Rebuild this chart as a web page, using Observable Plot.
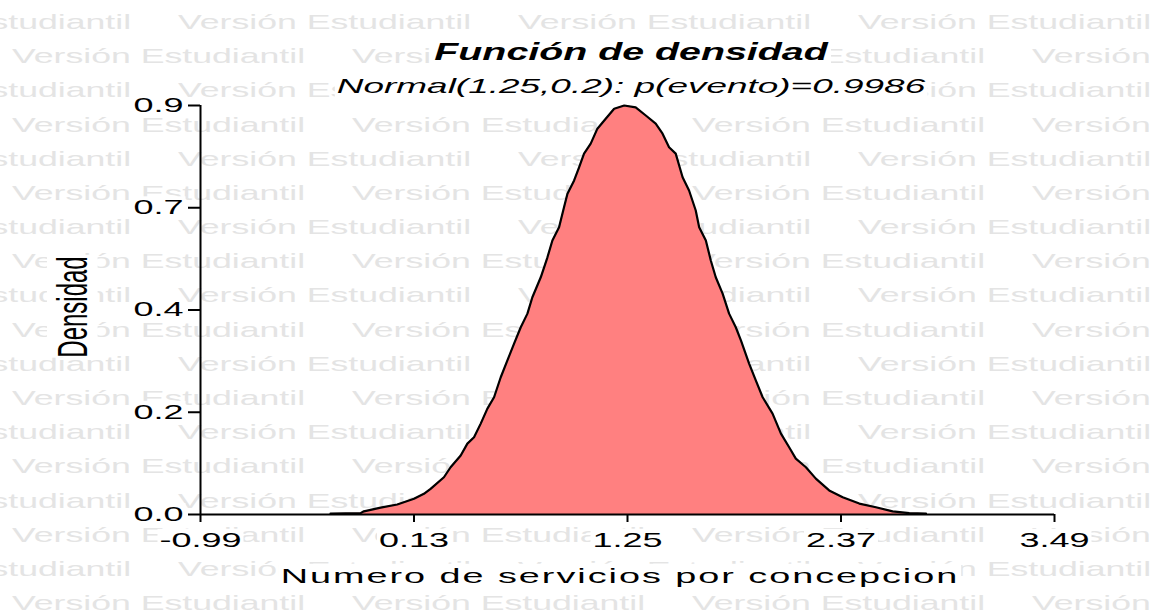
<!DOCTYPE html>
<html>
<head>
<meta charset="utf-8">
<script src="https://cdn.jsdelivr.net/npm/d3@7"></script>
<script src="https://cdn.jsdelivr.net/npm/@observablehq/plot@0.6"></script>
<style>
  body { margin: 0; background: #fff; }
  #wrap { position: relative; width: 1158px; height: 614px; overflow: hidden; background: #fff; }
  #wm { position: absolute; left: 0; top: 0; }
  #chart { position: absolute; left: 0; top: 0; }
</style>
</head>
<body>
<div id="wrap"><svg id="wm" width="1158" height="614"></svg><div id="chart"></div></div>
<script>
// ---- data ----
const curveX = [-0.308, -0.150, -0.133, -0.045, 0.042, 0.130, 0.182, 0.217, 0.287, 0.322,
  0.375, 0.410, 0.445, 0.480, 0.515, 0.550, 0.585, 0.620, 0.655, 0.690,
  0.725, 0.751, 0.795, 0.830, 0.856, 0.891, 0.917, 0.935, 0.970, 0.996,
  1.022, 1.057, 1.092, 1.128, 1.180, 1.233, 1.293, 1.346, 1.398, 1.434,
  1.468, 1.503, 1.539, 1.573, 1.608, 1.626, 1.661, 1.687, 1.713, 1.749,
  1.783, 1.818, 1.845, 1.888, 1.923, 1.959, 2.011, 2.055, 2.098, 2.133,
  2.186, 2.238, 2.308, 2.379, 2.466, 2.553, 2.641, 2.728, 2.816];
const curveY = [0.002, 0.003, 0.007, 0.015, 0.022, 0.0345, 0.0455, 0.0565, 0.082, 0.104,
  0.130, 0.156, 0.170, 0.200, 0.233, 0.258, 0.302, 0.339, 0.376, 0.412,
  0.442, 0.478, 0.522, 0.566, 0.603, 0.632, 0.676, 0.706, 0.735, 0.764,
  0.794, 0.816, 0.849, 0.867, 0.893, 0.900, 0.896, 0.878, 0.860, 0.838,
  0.808, 0.794, 0.742, 0.713, 0.669, 0.632, 0.603, 0.559, 0.522, 0.486,
  0.442, 0.412, 0.383, 0.332, 0.295, 0.258, 0.222, 0.178, 0.148, 0.123,
  0.104, 0.079, 0.053, 0.038, 0.024, 0.016, 0.007, 0.003, 0.002];
const xTicks = [-0.99, 0.13, 1.25, 2.37, 3.49];
const xTickLabels = ["-0.99", "0.13", "1.25", "2.37", "3.49"];
const yTicks = [0, 0.225, 0.45, 0.675, 0.9];
const yTickLabels = ["0.0", "0.2", "0.4", "0.7", "0.9"];
const titleText = "Función de densidad";
const subtitleText = "Normal(1.25,0.2): p(evento)=0.9986";
const xLabel = "Numero de servicios por concepcion";
const yLabel = "Densidad";
const watermark = "Versión Estudiantil";

const FONT = "'Liberation Sans', Arial, sans-serif";
const SVGNS = "http://www.w3.org/2000/svg";

// ---- watermark background ----
const wm = d3.select("#wm");
for (let i = 0; i < 18; i++) {
  const y = 29 + i * 34.18;
  const x0 = i % 2 === 0 ? -162 : 12;
  for (let x = x0; x < 1158; x += 340) {
    wm.append("text")
      .attr("transform", `translate(${x},${y}) scale(1.8,1)`)
      .attr("font-family", FONT)
      .attr("font-size", 19.8)
      .attr("fill", "#e4e4e4")
      .text(watermark);
  }
}

// ---- chart ----
const data = curveX.map((x, i) => ({x, y: curveY[i]}));
const plot = Plot.plot({
  width: 1158,
  height: 614,
  marginLeft: 200,
  marginRight: 104,
  marginTop: 105,
  marginBottom: 100,
  style: {background: "transparent", fontFamily: FONT, color: "#000", overflow: "visible"},
  x: {domain: [-0.99, 3.49]},
  y: {domain: [0, 0.9]},
  marks: [
    Plot.areaY(data, {x: "x", y: "y", fill: "#FF8080", curve: "linear"}),
    Plot.lineY(data, {x: "x", y: "y", stroke: "#000", strokeWidth: 2.2, curve: "linear"}),
    Plot.ruleX([-0.99], {stroke: "#000", strokeWidth: 2}),
    Plot.ruleY([0], {stroke: "#000", strokeWidth: 2}),
    Plot.axisX({ticks: xTicks, tickFormat: d => xTickLabels[xTicks.indexOf(d)], tickSize: 8, tickPadding: 10,
      strokeWidth: 2, fontSize: 20, label: null}),
    Plot.axisY({ticks: yTicks, tickFormat: d => yTickLabels[yTicks.indexOf(d)], tickSize: 12, tickPadding: 5,
      strokeWidth: 2, fontSize: 20, label: null, textAnchor: "end"})
  ]
});
document.getElementById("chart").appendChild(plot);

const svg = d3.select(plot);
let sr = plot.getBoundingClientRect();

// stretch tick labels horizontally about their anchor (the reference is horizontally stretched)
svg.selectAll("text").nodes().forEach(el => {
  const b = el.getBoundingClientRect();
  const lab = (el.closest("[aria-label]") || el).getAttribute("aria-label") || "";
  const isY = lab.indexOf("y-axis") >= 0;
  const axSvg = (isY ? b.right : (b.left + b.right) / 2) - sr.left;
  const m = el.parentNode.getCTM();
  const ax = axSvg - (m ? m.e : 0);
  const g = document.createElementNS(SVGNS, "g");
  g.setAttribute("transform", `translate(${ax},0) scale(1.8,1) translate(${-ax},0)`);
  el.parentNode.insertBefore(g, el);
  g.appendChild(el);
});

const xs = plot.scale("x");
const cx = (xs.apply(-0.99) + xs.apply(3.49)) / 2;

svg.append("text")
  .attr("transform", `translate(${cx + 4},60) scale(1.64,1)`)
  .attr("text-anchor", "middle").attr("font-family", FONT)
  .attr("font-size", 24).attr("font-weight", "bold").attr("font-style", "italic")
  .text(titleText);
svg.append("text")
  .attr("transform", `translate(${cx + 4},93) scale(1.76,1)`)
  .attr("text-anchor", "middle").attr("font-family", FONT)
  .attr("font-size", 21).attr("font-style", "italic")
  .text(subtitleText);
svg.append("text")
  .attr("transform", `translate(${cx - 7},583) scale(1.8,1)`)
  .attr("text-anchor", "middle").attr("font-family", FONT)
  .attr("font-size", 21).attr("letter-spacing", "1.1px")
  .text(xLabel);
svg.append("text")
  .attr("transform", `translate(87,307) scale(1.75,1) rotate(-90)`)
  .attr("text-anchor", "middle").attr("font-family", FONT)
  .attr("font-size", 24)
  .text(yLabel);

// white boxes behind all texts (hide the watermark there)
sr = plot.getBoundingClientRect();
const boxes = [];
svg.selectAll("text").each(function() {
  const r = this.getBoundingClientRect();
  boxes.push([r.left - sr.left - 2, r.top - sr.top, r.width + 4, r.height]);
});
const bg = svg.insert("g", ":first-child");
for (const [x, y, w, h] of boxes) {
  bg.append("rect").attr("x", x).attr("y", y).attr("width", w).attr("height", h).attr("fill", "#fff");
}
</script>
</body>
</html>
